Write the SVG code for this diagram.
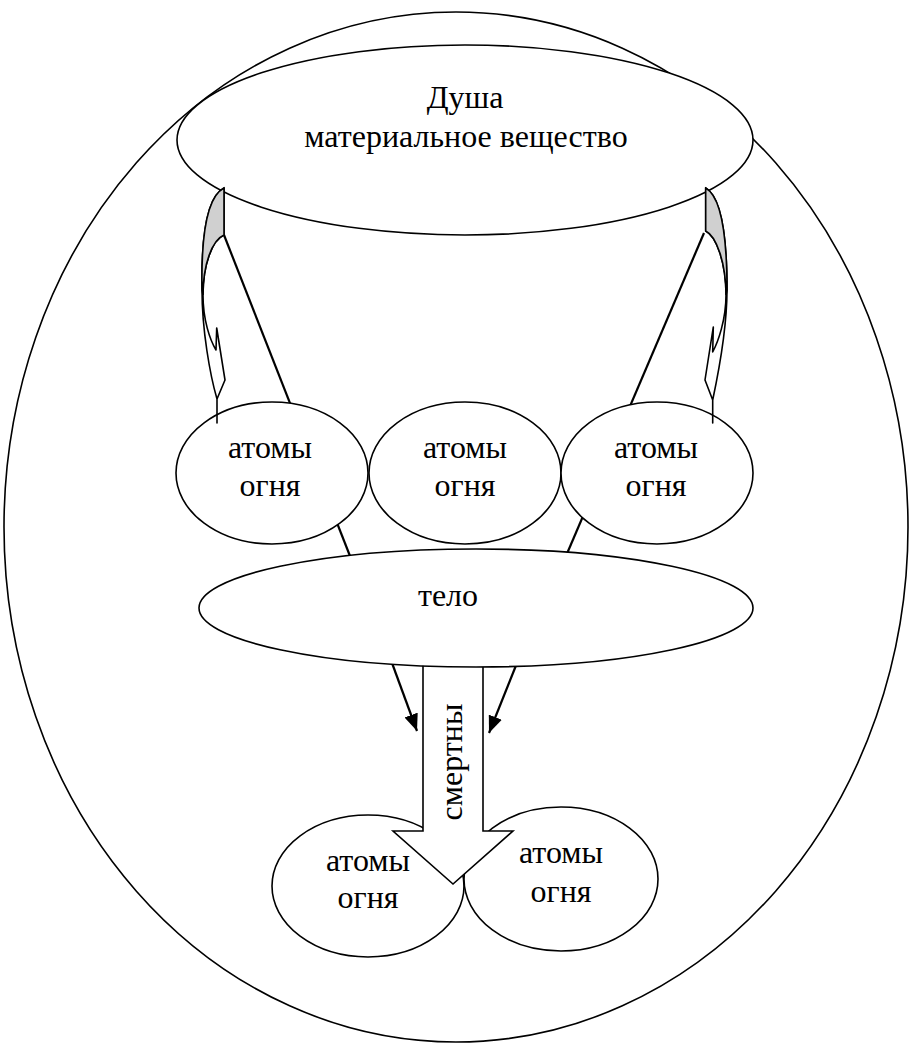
<svg xmlns="http://www.w3.org/2000/svg" width="910" height="1043" viewBox="0 0 910 1043">
<defs>
<style>
.node{fill:#fff;stroke:#000;stroke-width:1.6}
.outer{fill:none;stroke:#000;stroke-width:1.6}
.t{font-family:"Liberation Serif","Times New Roman",serif;font-size:32px;fill:#000;text-anchor:middle}
.ln{stroke:#000;stroke-width:2.2;fill:none}
.ca{fill:#fff;stroke:#000;stroke-width:1.6;stroke-linejoin:round}
.grey{fill:#d0d0d0;stroke:#000;stroke-width:1.6}
</style>
<marker id="ah" markerUnits="userSpaceOnUse" markerWidth="18" markerHeight="14" refX="17" refY="7" orient="auto">
<path d="M0,0 L17,7 L0,14 Z" fill="#000"/>
</marker>
</defs>
<rect width="910" height="1043" fill="#fff"/>
<g id="outer-circle">
<ellipse class="outer" cx="456" cy="527" rx="452" ry="515"/>
</g>
<g id="connectors">
<line class="ln" x1="224" y1="235" x2="350" y2="556"/>
<line class="ln" x1="704" y1="233" x2="566" y2="556"/>
<line class="ln" x1="392" y1="663" x2="417" y2="731" marker-end="url(#ah)"/>
<line class="ln" x1="517" y1="663" x2="489" y2="733" marker-end="url(#ah)"/>
</g>
<g id="soul">
<ellipse class="node" cx="465" cy="140" rx="288" ry="95"/>
<text class="t" x="465" y="108">Душа</text>
<text class="t" x="466" y="147">материальное вещество</text>
</g>
<g id="atoms-1">
<ellipse class="node" cx="272" cy="473" rx="96" ry="71"/>
<text class="t" x="270" y="458">атомы</text>
<text class="t" x="270" y="496">огня</text>
</g>
<g id="atoms-2">
<ellipse class="node" cx="465" cy="473" rx="96" ry="71"/>
<text class="t" x="465" y="458">атомы</text>
<text class="t" x="465" y="496">огня</text>
</g>
<g id="atoms-3">
<ellipse class="node" cx="657" cy="473" rx="96" ry="71"/>
<text class="t" x="656" y="458">атомы</text>
<text class="t" x="656" y="496">огня</text>
</g>
<g id="curved-arrow-left">
<path class="ca" d="M224,188 C208,196 201,230 202,290 C202,330 210,375 217,399 L217,423 L217,399 L225,380 L216.7,328 L216,350 C210,340 203,320 203,295 C203,265 212,240 224,235 Z"/>
<path class="grey" d="M224,188 C208,196 201,230 202,290 L203,295 C203,265 212,240 224,235 Z"/>
</g>
<g id="curved-arrow-right">
<path class="ca" d="M705.7,188 C720,196 727,230 727,290 C727,330 718,375 712.7,400 L712.7,423 L712.7,400 L705,380 L713.3,327 L712.7,352 C718,342 726,320 726,295 C726,262 716,236 705.7,231 Z"/>
<path class="grey" d="M705.7,188 C720,196 727,230 727,290 L726,295 C726,262 716,236 705.7,231 Z"/>
</g>
<g id="atoms-4">
<ellipse class="node" cx="368" cy="886" rx="96" ry="71"/>
<text class="t" x="368" y="871">атомы</text>
<text class="t" x="368" y="908">огня</text>
</g>
<g id="atoms-5">
<ellipse class="node" cx="561" cy="879" rx="97" ry="72"/>
<text class="t" x="561" y="863">атомы</text>
<text class="t" x="561" y="902">огня</text>
</g>
<g id="mortal-arrow">
<path class="node" d="M423,640 L483,640 L483,831 L513,831 L453,884 L393,831 L423,831 Z"/>
<text class="t" transform="translate(462,762) rotate(-90)" x="0" y="0">смертны</text>
</g>
<g id="body">
<ellipse class="node" cx="476" cy="608" rx="277" ry="59"/>
<text class="t" x="448" y="606">тело</text>
</g>
</svg>
